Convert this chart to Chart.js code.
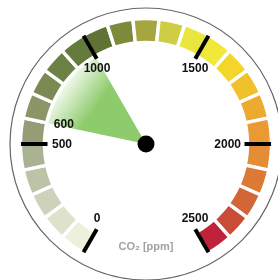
<!DOCTYPE html>
<html>
<head>
<meta charset="utf-8">
<script src="https://cdn.jsdelivr.net/npm/chart.js@4/dist/chart.umd.min.js"></script>
<style>
html, body { margin: 0; padding: 0; background: #fff; overflow: hidden; }
#wrap { width: 278px; height: 280px; }
</style>
</head>
<body>
<div id="wrap"><canvas id="gaugeChart"></canvas></div>
<script>
/***** GAUGE DATA : START *****/
// dial bands of 100 ppm each, 0 .. 2500
var bandValues = [100, 100, 100, 100, 100, 100, 100, 100, 100, 100,
                  100, 100, 100, 100, 100, 100, 100, 100, 100, 100,
                  100, 100, 100, 100, 100];
var bandColors = ['#eff0dc', '#dee1cb', '#cdd3bb', '#bcc3a6', '#aab294',
                  '#949d76', '#8b9668', '#7b8a52', '#6e8145', '#657b3c',
                  '#5f7434', '#7d893b', '#a5a640', '#cfcd46', '#ebe63f',
                  '#f2e83a', '#f4d529', '#f1c12b', '#eeaa30', '#e99a33',
                  '#e38d36', '#dc7a35', '#d36636', '#c94c37', '#c0213b'];
var dialRest = 500;          // empty bottom of the dial (2500 .. 3000)
var tickValues = [0, 500, 1000, 1500, 2000, 2500];
var tickLabels = ['0', '500', '1000', '1500', '2000', '2500'];
var pointerRange = [600, 1000];
var pointerLabel = '600';
var unitLabel = 'CO\u2082 [ppm]';
/***** GAUGE DATA : END *****/

var dialTotal = bandValues.reduce(function (a, b) { return a + b; }, 0) + dialRest;
var dialRotation = -150;
var pointerGreen = '#8ecb6c';

function dialCenter(chart) {
    var a = chart.chartArea;
    return { x: (a.left + a.right) / 2, y: (a.top + a.bottom) / 2 };
}

function valueAngle(v) {
    return -Math.PI / 2 + dialRotation * Math.PI / 180 + v / dialTotal * Math.PI * 2;
}

function pointerFill(context) {
    if (context.dataIndex !== 1) return 'rgba(0,0,0,0)';
    var chart = context.chart;
    if (!chart.chartArea) return pointerGreen;
    var c = dialCenter(chart);
    var mid = valueAngle((pointerRange[0] + pointerRange[1]) / 2);
    var r = 103;
    var g = chart.ctx.createLinearGradient(c.x, c.y, c.x + Math.cos(mid) * r, c.y + Math.sin(mid) * r);
    g.addColorStop(0, pointerGreen);
    g.addColorStop(0.6, pointerGreen);
    g.addColorStop(1, '#f8fcf5');
    return g;
}

var dialFace = {
    id: 'dialFace',
    beforeDraw: function (chart) {
        var ctx = chart.ctx;
        var c = dialCenter(chart);
        ctx.save();
        ctx.beginPath();
        ctx.arc(c.x, c.y, 136, 0, Math.PI * 2);
        ctx.strokeStyle = '#666';
        ctx.lineWidth = 1.2;
        ctx.stroke();
        ctx.restore();
    },
    afterDraw: function (chart) {
        var ctx = chart.ctx;
        var c = dialCenter(chart);
        var arcs = chart.getDatasetMeta(0).data;
        ctx.save();

        // ticks and labels, angles taken from the band arcs
        ctx.font = 'bold 12px "Liberation Sans", Arial, sans-serif';
        ctx.fillStyle = '#111';
        tickValues.forEach(function (v, i) {
            var k = 0, sum = 0;
            while (sum < v) { sum += bandValues[k]; k++; }
            var ang = arcs[k].startAngle;
            var cs = Math.cos(ang), sn = Math.sin(ang);
            ctx.beginPath();
            ctx.moveTo(c.x + cs * 98.5, c.y + sn * 98.5);
            ctx.lineTo(c.x + cs * 125, c.y + sn * 125);
            ctx.strokeStyle = '#000';
            ctx.lineWidth = 4;
            ctx.stroke();

            var x = c.x + cs * 98, y = c.y + sn * 98;
            if (Math.abs(cs) > 0.9) {
                ctx.textBaseline = 'middle';
                ctx.textAlign = cs < 0 ? 'left' : 'right';
                x += cs < 0 ? 4 : -3;
            } else if (sn < 0) {
                ctx.textBaseline = 'top';
                ctx.textAlign = 'center';
                y += 3;
            } else {
                ctx.textBaseline = 'bottom';
                ctx.textAlign = 'center';
                y -= 5;
            }
            ctx.fillText(tickLabels[i], x, y + 0.5);
        });

        // pointer start label
        var pa = chart.getDatasetMeta(1).data[1].startAngle;
        ctx.textAlign = 'center';
        ctx.textBaseline = 'middle';
        ctx.fillText(pointerLabel, c.x + Math.cos(pa) * 84, c.y + Math.sin(pa) * 84 - 2);

        // hub
        ctx.beginPath();
        ctx.arc(c.x, c.y, 8.5, 0, Math.PI * 2);
        ctx.fillStyle = '#000';
        ctx.fill();

        // unit
        ctx.font = 'bold 11px "Liberation Sans", Arial, sans-serif';
        ctx.fillStyle = '#a2a2a2';
        ctx.fillText(unitLabel, c.x, c.y + 103);
        ctx.restore();
    }
};

var data = {
    datasets: [{
        data: bandValues.concat([dialRest]),
        backgroundColor: bandColors.concat(['rgba(0,0,0,0)']),
        borderColor: '#fff',
        borderWidth: bandValues.map(function () { return 3.4; }).concat([0]),
        weight: 24
    }, {
        data: [pointerRange[0], pointerRange[1] - pointerRange[0], dialTotal - pointerRange[1]],
        backgroundColor: pointerFill,
        borderWidth: 0,
        weight: 101.5
    }]
};

var options = {
    responsive: true,
    maintainAspectRatio: false,
    animation: false,
    events: [],
    rotation: dialRotation,
    circumference: 360,
    radius: 125.5,
    cutout: 0,
    layout: { padding: { left: 14, top: 8 } },
    plugins: { legend: { display: false }, tooltip: { enabled: false } }
};

var ctx = document.getElementById('gaugeChart').getContext('2d');
var gaugeChart = new Chart(ctx, {
    type: 'doughnut',
    data: data,
    options: options,
    plugins: [dialFace]
});
</script>
</body>
</html>
